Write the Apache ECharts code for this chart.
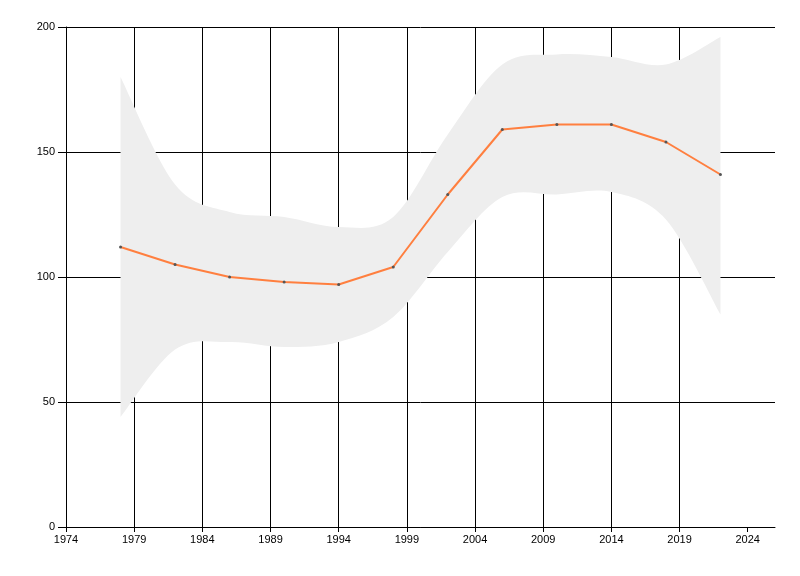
<!DOCTYPE html>
<html>
<head>
<meta charset="utf-8">
<script src="https://cdn.jsdelivr.net/npm/echarts@6/dist/echarts.min.js"></script>
<style>
  html, body { margin: 0; padding: 0; background: #fff; }
  #chart { width: 800px; height: 576px; }
</style>
</head>
<body>
<div id="chart"></div>
<script>
// years of the samples
const years = [1978, 1982, 1986, 1990, 1994, 1998, 2002, 2006, 2010, 2014, 2018, 2022];
// fitted value (orange line)
const values = [112, 105, 100, 98, 97, 104, 133, 159, 161, 161, 154, 141];
// band limits (grey area)
const bandUpper = [180, 137, 126, 124, 120, 124, 157, 185, 189, 188, 185, 196];
const bandLower = [44, 71, 74, 72, 74, 84, 110, 132, 133, 134, 123, 85];
// axis ticks
const xTicks = [1974, 1979, 1984, 1989, 1994, 1999, 2004, 2009, 2014, 2019, 2024];

const labelFont = { color: '#000', fontFamily: 'Liberation Sans', fontSize: 11 };

// smooth open curve through pixel points (catmull-rom -> cubic bezier)
function curvePath(pts) {
    let d = '';
    for (let i = 0; i < pts.length - 1; i++) {
        const p0 = pts[Math.max(i - 1, 0)];
        const p1 = pts[i];
        const p2 = pts[i + 1];
        const p3 = pts[Math.min(i + 2, pts.length - 1)];
        const c1 = [p1[0] + (p2[0] - p0[0]) / 6, p1[1] + (p2[1] - p0[1]) / 6];
        const c2 = [p2[0] - (p3[0] - p1[0]) / 6, p2[1] - (p3[1] - p1[1]) / 6];
        d += ' C' + c1.join(' ') + ' ' + c2.join(' ') + ' ' + p2.join(' ');
    }
    return d;
}

function renderBand(params, api) {
    if (params.dataIndex !== 0) return null;
    const up = years.map((y, i) => api.coord([y, bandUpper[i]]));
    const lo = years.map((y, i) => api.coord([y, bandLower[i]])).reverse();
    const d = 'M' + up[0].join(' ') + curvePath(up) +
        ' L' + lo[0].join(' ') + curvePath(lo) + ' Z';
    return {
        type: 'path',
        shape: { pathData: d },
        style: { fill: '#eeeeee', stroke: null }
    };
}

const chart = echarts.init(document.getElementById('chart'));
chart.setOption({
    animation: false,
    grid: { left: 66, top: 27, right: 25, bottom: 49 },
    xAxis: {
        type: 'value',
        min: 1974,
        max: 2026,
        interval: 5,
        axisLine: { lineStyle: { color: '#000', width: 1 } },
        axisTick: { length: 5, customValues: xTicks, lineStyle: { color: '#000' } },
        axisLabel: { ...labelFont, margin: 7, customValues: xTicks, formatter: v => String(v) },
        splitLine: { show: true, showMaxLine: false, lineStyle: { color: '#000', width: 1 } }
    },
    yAxis: {
        type: 'value',
        min: 0,
        max: 200,
        interval: 50,
        axisLine: { show: true, lineStyle: { color: '#000', width: 1 } },
        axisTick: { show: true, length: 8, lineStyle: { color: '#000' } },
        axisLabel: { ...labelFont, margin: 11 },
        splitLine: { show: true, lineStyle: { color: '#000', width: 1 } }
    },
    series: [
        {
            type: 'custom',
            data: years.map((y, i) => [y, bandLower[i], bandUpper[i]]),
            encode: { x: 0, y: [1, 2] },
            renderItem: renderBand,
            silent: true,
            z: 2
        },
        {
            type: 'line',
            data: years.map((y, i) => [y, values[i]]),
            symbol: 'circle',
            symbolSize: 3,
            itemStyle: { color: '#555' },
            lineStyle: { color: '#ff7f3f', width: 2 },
            z: 5
        }
    ]
});
</script>
</body>
</html>
